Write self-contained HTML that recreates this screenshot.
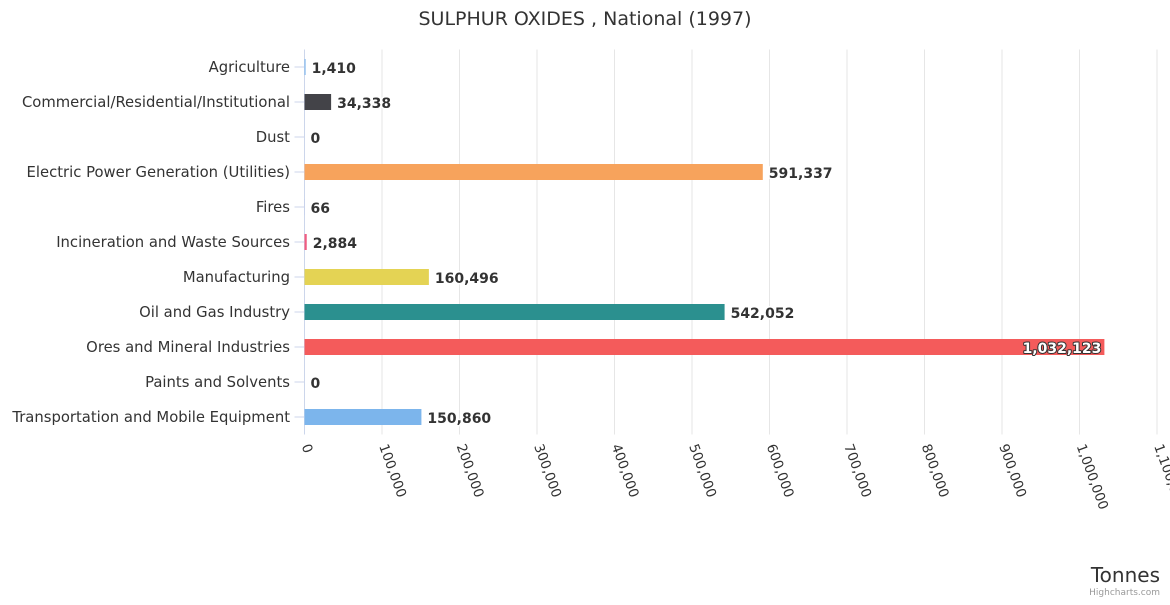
<!DOCTYPE html>
<html><head><meta charset="utf-8"><style>
body{margin:0;background:#fff;}
svg{font-family:"DejaVu Sans","Liberation Sans",sans-serif;}
</style></head><body>
<svg id="chart" width="1170" height="600">
<text x="585" y="25" text-anchor="middle" font-size="19" fill="#333">SULPHUR OXIDES , National (1997)</text>
<g id="grid"></g>
<g id="bars"></g>
<g id="labels"></g>
<text x="1160" y="582" text-anchor="end" font-size="20" fill="#333">Tonnes</text>
<text x="1160" y="595" text-anchor="end" font-size="9" fill="#999">Highcharts.com</text>
</svg>
<script>
const categories=["Agriculture","Commercial/Residential/Institutional","Dust","Electric Power Generation (Utilities)","Fires","Incineration and Waste Sources","Manufacturing","Oil and Gas Industry","Ores and Mineral Industries","Paints and Solvents","Transportation and Mobile Equipment"];
const values=[1410,34338,0,591337,66,2884,160496,542052,1032123,0,150860];
const colors=["#7cb5ec","#434348","#90ed7d","#f7a35c","#8085e9","#f15c80","#e4d354","#2b908f","#f45b5b","#91e8e1","#7cb5ec"];
const ticks=[0,100000,200000,300000,400000,500000,600000,700000,800000,900000,1000000,1100000];
const NS="http://www.w3.org/2000/svg";
const x0=304.5,pxPer=0.000775,plotTop=49.5,rowH=35;
const xs=v=>x0+v*pxPer;
const yc=i=>plotTop+rowH*(i+0.5);
const plotBottom=plotTop+rowH*categories.length;
function mk(t,a,p){const e=document.createElementNS(NS,t);for(const k in a)e.setAttribute(k,a[k]);p.appendChild(e);return e;}
const g=document.getElementById('grid'),b=document.getElementById('bars'),l=document.getElementById('labels');
const fmt=v=>v.toLocaleString('en-US');
ticks.forEach((t,i)=>{
 if(i>0){const ln=mk('line',{x1:xs(t),x2:xs(t),y1:plotTop,y2:plotBottom,stroke:'#e6e6e6'},g);
 
 }
 const x=xs(t)-3,y=446;
 const tx=mk('text',{x:x,y:y,'font-size':13.5,fill:'#333',transform:`rotate(70 ${x} ${y})`},g);
 
 
 tx.textContent=fmt(t);
});
const ax=mk('line',{x1:x0,x2:x0,y1:plotTop,y2:plotBottom,stroke:'#ccd6eb'},g);


categories.forEach((c,i)=>{
 const y=yc(i);
 const tk=mk('line',{x1:x0-10,x2:x0,y1:y,y2:y,stroke:'#ccd6eb'},g);
 
 
 const t=mk('text',{x:290,y:y+5,'text-anchor':'end','font-size':14.8,fill:'#333'},l);
 
 
 t.textContent=c;
 const w=xs(values[i])-x0;
 const r=mk('rect',{x:x0,y:y-8,width:Math.max(w,0),height:16,fill:colors[i]},b);
 
 
 const inside=xs(values[i])+80>1165;
 const lx=inside?xs(values[i])-3:xs(values[i])+6;
 const dl=mk('text',{x:lx,y:y+6,'font-size':14,'font-weight':'bold','text-anchor':inside?'end':'start',fill:inside?'#fff':'#333',stroke:inside?'#333':'#fff','stroke-width':inside?2:3,'paint-order':'stroke','stroke-linejoin':'round'},l);
 
 
 dl.textContent=fmt(values[i]);
});
</script>
</body></html>
